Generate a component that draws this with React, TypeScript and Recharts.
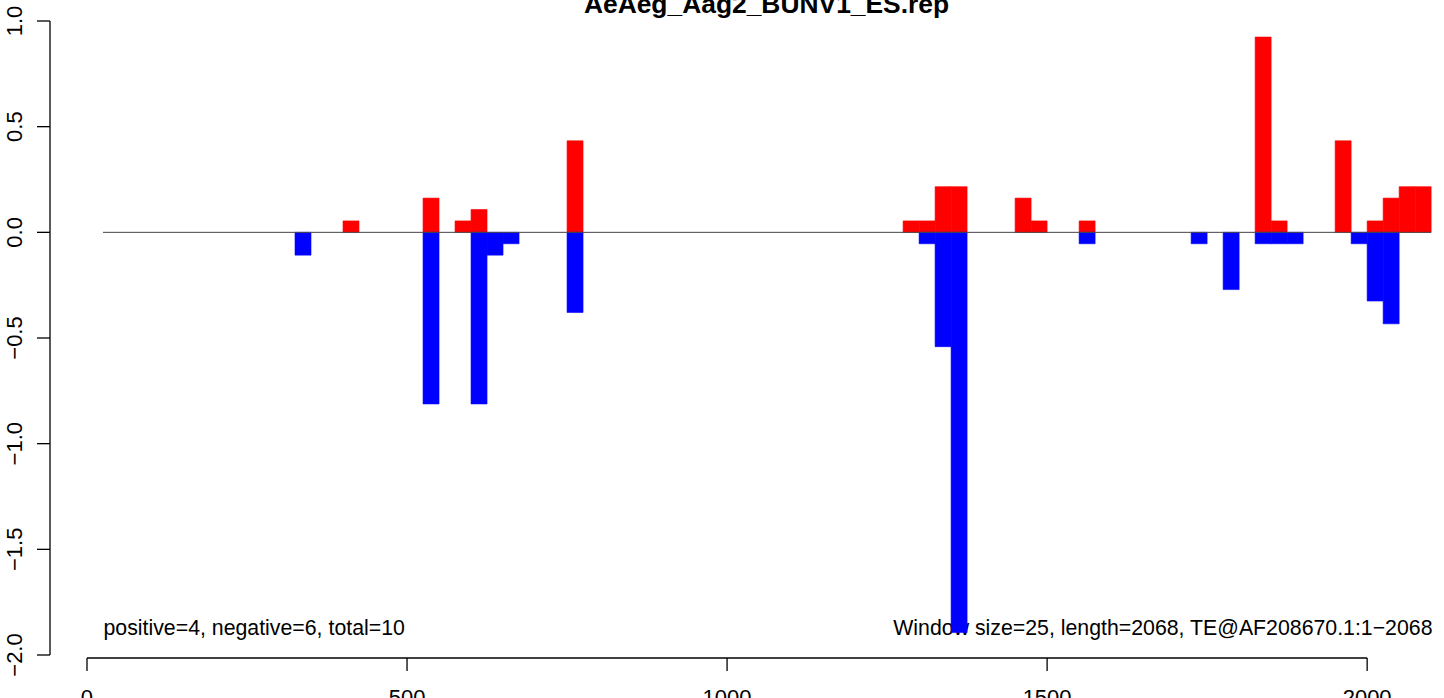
import { ComposedChart, Bar, XAxis, YAxis, ReferenceLine } from 'recharts';

// sliding windows of 25 bp along the TE sequence
const WINDOW = 25;
const windowStarts = [325, 400, 525, 575, 600, 625, 650, 750, 1275, 1300, 1325, 1350, 1450, 1475, 1550, 1725, 1775, 1825, 1850, 1875, 1950, 1975, 2000, 2025, 2050, 2075];
const positiveValues = [0, 0.054, 0.162, 0.054, 0.108, 0, 0, 0.433, 0.054, 0.054, 0.216, 0.216, 0.162, 0.054, 0.054, 0, 0, 0.924, 0.054, 0, 0.433, 0, 0.054, 0.162, 0.216, 0.216];
const negativeValues = [-0.108, 0, -0.812, 0, -0.812, -0.108, -0.054, -0.379, 0, -0.054, -0.541, -1.894, 0, 0, -0.054, -0.054, -0.271, -0.054, -0.054, -0.054, 0, -0.054, -0.325, -0.433, 0, 0];

const xTicks = [0, 500, 1000, 1500, 2000];
const yTicks = [-2, -1.5, -1, -0.5, 0, 0.5, 1];
const baselineRange = [25, 2100];

const title = 'AeAeg_Aag2_BUNV1_ES.rep';
const leftNote = 'positive=4, negative=6, total=10';
const rightNote = 'Window size=25, length=2068, TE@AF208670.1:1\u22122068';

const X_MIN = -57.8;
const X_MAX = 2181;
const Y_MIN = -2.0142;
const Y_MAX = 1;

const FONT = '"Liberation Sans", Arial, Helvetica, sans-serif';

const data = windowStarts.map((start, i) => ({
  x: start + WINDOW / 2,
  pos: positiveValues[i],
  neg: negativeValues[i],
}));

const fmtY = (v: number) => {
  const s = Math.abs(v).toFixed(1);
  return v < 0 ? '\u2212' + s : s;
};

function YTick(props: any) {
  const { x, y, payload } = props;
  const bx = x - 15;
  return (
    <text
      x={bx}
      y={y}
      transform={`rotate(-90, ${bx}, ${y})`}
      textAnchor="middle"
      fontSize={22}
      fontFamily={FONT}
      fill="#000"
    >
      {fmtY(payload.value)}
    </text>
  );
}

function XTick(props: any) {
  const { x, y, payload } = props;
  return (
    <text x={x} y={y + 34} textAnchor="middle" fontSize={22} fontFamily={FONT} fill="#000">
      {payload.value}
    </text>
  );
}

export default function App() {
  return (
    <div style={{ position: 'absolute', left: 0, top: 0, width: 1444, height: 698, overflow: 'hidden', background: '#fff' }}>
      {/* title and notes sit under the bars */}
      <svg width={1444} height={698} style={{ position: 'absolute', left: 0, top: 0 }}>
        <text x={766.5} y={12.5} textAnchor="middle" fontSize={26.4} fontWeight="bold" fontFamily={FONT} fill="#000">
          {title}
        </text>
        <text x={103.5} y={635} textAnchor="start" fontSize={21.3} fontFamily={FONT} fill="#000">
          {leftNote}
        </text>
        <text x={1432.5} y={635} textAnchor="end" fontSize={21.3} fontFamily={FONT} fill="#000">
          {rightNote}
        </text>
      </svg>
      <div style={{ position: 'absolute', left: 0, top: 0 }}>
        <ComposedChart
          width={1483}
          height={698}
          data={data}
          stackOffset="sign"
          margin={{ top: 21, right: 0, bottom: 10, left: 10 }}
        >
          <XAxis
            dataKey="x"
            type="number"
            domain={[X_MIN, X_MAX]}
            allowDataOverflow
            ticks={xTicks}
            axisLine={false}
            tickLine={{ stroke: '#000', strokeWidth: 1.3 }}
            tickSize={13}
            tickMargin={0}
            tick={<XTick />}
            height={30}
            interval={0}
          />
          <YAxis
            type="number"
            domain={[Y_MIN, Y_MAX]}
            allowDataOverflow
            ticks={yTicks}
            axisLine={false}
            tickLine={{ stroke: '#000', strokeWidth: 1.3 }}
            tickSize={13}
            tickMargin={0}
            tick={<YTick />}
            width={40}
            interval={0}
          />
          <ReferenceLine
            segment={[{ x: baselineRange[0], y: 0 }, { x: baselineRange[1], y: 0 }]}
            stroke="#444"
            strokeWidth={1}
          />
          <ReferenceLine
            segment={[{ x: X_MIN, y: yTicks[0] }, { x: X_MIN, y: yTicks[yTicks.length - 1] }]}
            stroke="#000"
            strokeWidth={1.3}
          />
          <ReferenceLine
            segment={[{ x: xTicks[0], y: Y_MIN }, { x: xTicks[xTicks.length - 1], y: Y_MIN }]}
            stroke="#000"
            strokeWidth={1.3}
          />
          <Bar dataKey="pos" stackId="w" fill="#ff0000" stroke="#ff0000" strokeWidth={0.6} barSize={16} isAnimationActive={false} />
          <Bar dataKey="neg" stackId="w" fill="#0000ff" stroke="#0000ff" strokeWidth={0.6} barSize={16} isAnimationActive={false} />
        </ComposedChart>
      </div>
    </div>
  );
}
